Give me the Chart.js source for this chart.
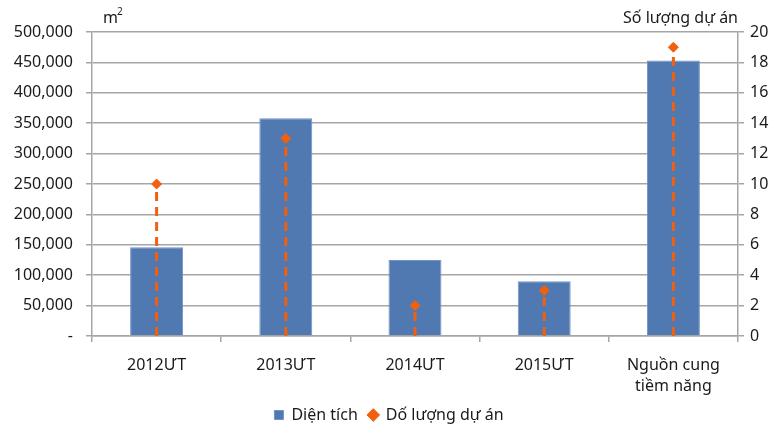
<!DOCTYPE html>
<html>
<head>
<meta charset="utf-8">
<script src="https://cdn.jsdelivr.net/npm/chart.js@4"></script>
<style>
  html, body { margin: 0; padding: 0; background: #fff; }
  canvas { display: block; }
</style>
</head>
<body>
<canvas id="chart" width="778" height="428"></canvas>
<script>
// Dữ liệu biểu đồ
const categories = ['2012ƯT', '2013ƯT', '2014ƯT', '2015ƯT', ['Nguồn cung', 'tiềm năng']];
const areaValues = [146000, 358000, 125000, 90000, 453000];
const projectCounts = [10, 13, 2, 3, 19];
const rightUnit = 'Số lượng dự án';

const BLUE = '#4F79B0';
const ORANGE = '#F0600F';
const GRID = '#A6A6A6';
const FONT = '"Noto Sans", "DejaVu Sans", sans-serif';

Chart.defaults.font.family = FONT;
Chart.defaults.font.size = 16;
Chart.defaults.color = '#1a1a1a';

// vẽ đường nét đứt từ trục 0 lên tới điểm
const dropLines = {
    id: 'dropLines',
    afterDatasetDraw(chart, args) {
        if (args.index !== 0) return;
        const meta = chart.getDatasetMeta(1);
        const y1 = chart.scales.y1;
        const ctx = chart.ctx;
        ctx.save();
        ctx.strokeStyle = ORANGE;
        ctx.lineWidth = 3;
        ctx.setLineDash([9, 6]);
        meta.data.forEach(pt => {
            ctx.beginPath();
            ctx.moveTo(pt.x, y1.getPixelForValue(0));
            ctx.lineTo(pt.x, pt.y + 4);
            ctx.stroke();
        });
        ctx.restore();
    },
    afterDraw(chart) {
        const ctx = chart.ctx;
        const area = chart.chartArea;
        ctx.save();
        ctx.fillStyle = '#1a1a1a';
        ctx.font = '16px ' + FONT;
        ctx.textBaseline = 'alphabetic';
        ctx.textAlign = 'left';
        ctx.fillText('m', area.left + 11, 23);
        ctx.font = '10px ' + FONT;
        ctx.fillText('2', area.left + 11 + 14, 15);
        ctx.font = '16px ' + FONT;
        ctx.textAlign = 'right';
        ctx.fillText(rightUnit, area.right, 23);
        ctx.restore();
    }
};

new Chart(document.getElementById('chart'), {
    data: {
        labels: categories,
        datasets: [
            {
                type: 'bar',
                label: 'Diện tích',
                data: areaValues,
                backgroundColor: BLUE,
                borderColor: '#6F93C4',
                borderWidth: 1,
                yAxisID: 'y',
                barPercentage: 0.41,
                categoryPercentage: 1,
                order: 2,
                pointStyle: 'rect'
            },
            {
                type: 'line',
                label: 'Dố lượng dự án',
                data: projectCounts,
                showLine: false,
                yAxisID: 'y1',
                pointStyle: 'rectRot',
                pointRadius: 5,
                pointBackgroundColor: ORANGE,
                pointBorderColor: ORANGE,
                backgroundColor: ORANGE,
                borderColor: ORANGE,
                order: 1
            }
        ]
    },
    options: {
        responsive: false,
        animation: false,
        layout: { padding: { top: 32, left: 0, right: 0, bottom: -5 } },
        plugins: {
            tooltip: { enabled: false },
            legend: {
                position: 'bottom',
                labels: {
                    usePointStyle: true,
                    boxWidth: 9,
                    boxHeight: 9,
                    padding: 11,
                    color: '#1a1a1a',
                    font: { lineHeight: 0.7 },
                    sort: (a, b) => a.datasetIndex - b.datasetIndex
                }
            }
        },
        scales: {
            x: {
                offset: true,
                afterFit: s => { s.height = 60; },
                grid: {
                    offset: true,
                    drawOnChartArea: false,
                    tickLength: 6,
                    color: GRID,
                    lineWidth: 1.5
                },
                border: { color: GRID, width: 1.5 },
                ticks: { padding: 13, maxRotation: 0, autoSkip: false, font: { lineHeight: 1.3 } }
            },
            y: {
                position: 'left',
                min: 0,
                max: 500000,
                afterFit: s => { s.width = 92; },
                grid: { color: GRID, lineWidth: 1.5, tickLength: 6 },
                border: { color: GRID, width: 1.5 },
                ticks: {
                    stepSize: 50000,
                    padding: 13,
                    callback: v => v === 0 ? '-' : v.toLocaleString('en-US')
                }
            },
            y1: {
                position: 'right',
                min: 0,
                max: 20,
                afterFit: s => { s.width = 40; },
                grid: { drawOnChartArea: false, color: GRID, lineWidth: 1.5, tickLength: 6 },
                border: { color: GRID, width: 1.5 },
                ticks: { stepSize: 2, padding: 6 }
            }
        }
    },
    plugins: [dropLines]
});
</script>
</body>
</html>
